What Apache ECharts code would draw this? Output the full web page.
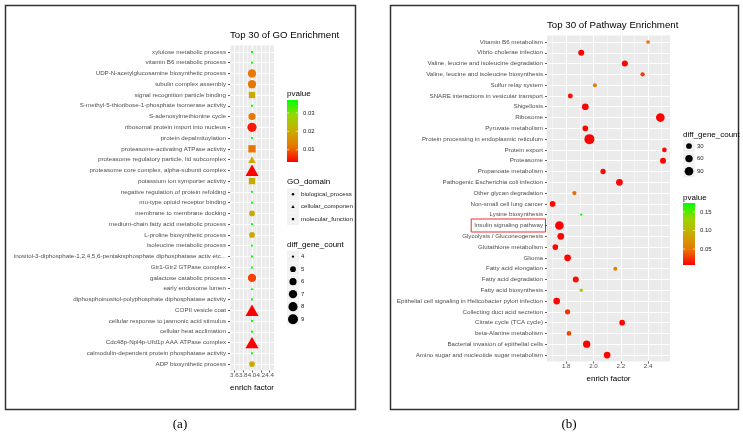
<!DOCTYPE html>
<html><head><meta charset="utf-8">
<script src="https://cdn.jsdelivr.net/npm/echarts@6/dist/echarts.min.js"></script>
<style>html,body{margin:0;padding:0;background:#fff;}#c{width:743px;height:438px;}</style>
</head><body><div id="c"></div><script>
// ---------- Panel (a): GO enrichment ----------
const goTerms = ['xylulose metabolic process','vitamin B6 metabolic process','UDP-N-acetylglucosamine biosynthetic process','tubulin complex assembly','signal recognition particle binding','S-methyl-5-thioribose-1-phosphate isomerase activity','S-adenosylmethionine cycle','ribosomal protein import into nucleus','protein depalmitoylation','proteasome-activating ATPase activity','proteasome regulatory particle, lid subcomplex','proteasome core complex, alpha-subunit complex','potassium ion symporter activity','negative regulation of protein refolding','mu-type opioid receptor binding','membrane to membrane docking','medium-chain fatty acid metabolic process','L-proline biosynthetic process','isoleucine metabolic process','inositol-3-diphosphate-1,2,4,5,6-pentakisphosphate diphosphatase activ etc...','Gtr1-Gtr2 GTPase complex','galactose catabolic process','early endosome lumen','diphosphoinositol-polyphosphate diphosphatase activity','COPII vesicle coat','cellular response to jasmonic acid stimulus','cellular heat acclimation','Cdc48p-Npl4p-Ufd1p AAA ATPase complex','calmodulin-dependent protein phosphatase activity','ADP biosynthetic process'];
const goEnrich = [4.0,4.0,4.0,4.0,4.0,4.0,4.0,4.0,4.0,4.0,4.0,4.0,4.0,4.0,4.0,4.0,4.0,4.0,4.0,4.0,4.0,4.0,4.0,4.0,4.0,4.0,4.0,4.0,4.0,4.0];
const goCount = [4,4,7,7,6,4,6,8,4,7,5,9,6,4,4,5,4,5,4,4,4,7,4,4,9,4,4,9,4,5];
const goPvalue = [0.037,0.037,0.012,0.012,0.02,0.037,0.012,0.005,0.037,0.012,0.02,0.0034,0.02,0.037,0.037,0.02,0.037,0.02,0.037,0.037,0.037,0.008,0.037,0.037,0.0034,0.037,0.037,0.0034,0.037,0.02];
// 0 biological_process, 1 cellular_component, 2 molecular_function
const goDomain = [0,0,0,0,2,2,0,0,0,2,1,1,2,0,2,0,0,0,0,2,1,0,1,2,1,0,0,1,2,0];
const goDomainNames = ['biological_process','cellular_component','molecular_function'];
const goTicks = [3.6,3.8,4.0,4.2,4.4];
const goMinorTicks = [3.5,3.7,3.9,4.1,4.3,4.5];
const goPLegend = [0.01,0.02,0.03];
const goCountLegend = [4,5,6,7,8,9];

// ---------- Panel (b): Pathway enrichment ----------
const kTerms = ['Vitamin B6 metabolism','Vibrio cholerae infection','Valine, leucine and isoleucine degradation','Valine, leucine and isoleucine biosynthesis','Sulfur relay system','SNARE interactions in vesicular transport','Shigellosis','Ribosome','Pyruvate metabolism','Protein processing in endoplasmic reticulum','Protein export','Proteasome','Propanoate metabolism','Pathogenic Escherichia coli infection','Other glycan degradation','Non-small cell lung cancer','Lysine biosynthesis','Insulin signaling pathway','Glycolysis / Gluconeogenesis','Glutathione metabolism','Glioma','Fatty acid elongation','Fatty acid degradation','Fatty acid biosynthesis','Epithelial cell signaling in Helicobacter pylori infection','Collecting duct acid secretion','Citrate cycle (TCA cycle)','beta-Alanine metabolism','Bacterial invasion of epithelial cells','Amino sugar and nucleotide sugar metabolism'];
const kEnrich = [2.40,1.91,2.23,2.36,2.01,1.83,1.94,2.49,1.94,1.97,2.52,2.51,2.07,2.19,1.86,1.70,1.91,1.75,1.76,1.72,1.81,2.16,1.87,1.91,1.73,1.81,2.21,1.82,1.95,2.10];
const kCount = [9,34,34,13,11,20,46,91,29,130,17,34,24,46,13,29,5,91,46,29,46,11,34,7,46,24,29,17,57,46];
const kPvalue = [0.049,0.008,0.008,0.027,0.05,0.012,0.008,0.007,0.009,0.007,0.01,0.008,0.01,0.008,0.045,0.01,0.174,0.007,0.008,0.009,0.008,0.055,0.012,0.124,0.008,0.025,0.01,0.03,0.007,0.009];
const kTicks = [1.8,2.0,2.2,2.4];
const kMinorTicks = [1.7,1.9,2.1,2.3,2.5];
const kPLegend = [0.05,0.10,0.15];
const kCountLegend = [30,60,90];
const highlightTerm = 'Insulin signaling pathway';

// ---------- helpers ----------
const FONT = 'Liberation Sans, Arial, sans-serif';
const ramp = ['#FF0000','#E87600','#C9AB00','#98D700','#00FF00'];
const TXT = '#4D4D4D';
function ext(a){return [Math.min.apply(null,a), Math.max.apply(null,a)];}
function expand(a){const e=ext(a); const r=e[1]-e[0]; if(r===0) return [e[0]-0.5,e[1]+0.5]; return [e[0]-0.05*r,e[1]+0.05*r];}
function sizer(arr){const e=ext(arr); return v=>2.3+7.7*Math.sqrt((v-e[0])/(e[1]-e[0]));}
const goSize = sizer(goCount), kSize = sizer(kCount);
function shapeSize(shape, d){ if(shape===1) return [d*1.3,d*1.15]; if(shape===2) return d*0.88; return d; }
const SHAPES = ['circle','triangle','rect'];
const goP = ext(goPvalue), kP = ext(kPvalue);
const goX = expand(goEnrich), kX = expand(kEnrich);
const idx30 = goTerms.map((t,i)=>i);
const kIdx = kTerms.map((t,i)=>i);

function xAxes(grid, range, major, minor){
  return [{
    gridIndex:grid, type:'value', min:range[0], max:range[1], position:'bottom',
    axisLine:{show:false,onZero:false},
    axisTick:{show:true,length:2,lineStyle:{color:'#333',width:0.8},customValues:major},
    axisLabel:{customValues:major,fontSize:6.2,color:TXT,margin:2,fontFamily:FONT,formatter:v=>v.toFixed(1)},
    splitLine:{show:true,lineStyle:{color:'#fff',width:1}},
    name:'enrich factor', nameLocation:'middle', nameGap:13,
    nameTextStyle:{fontSize:8,color:'#000',fontFamily:FONT}
  },{
    gridIndex:grid, type:'value', min:range[0], max:range[1], position:'top',
    axisLine:{show:false,onZero:false},
    axisTick:{show:false,customValues:minor},
    axisLabel:{show:false,customValues:minor},
    splitLine:{show:true,lineStyle:{color:'#fff',width:0.5}}
  }];
}
function yAxis(grid, terms, idx, fs){
  return {
    gridIndex:grid, type:'value', inverse:true, min:-0.6, max:terms.length-1+0.6,
    axisLine:{show:false,onZero:false},
    axisTick:{show:true,length:2,lineStyle:{color:'#333',width:0.8},customValues:idx},
    axisLabel:{customValues:idx,fontSize:fs,color:TXT,margin:4,fontFamily:FONT,formatter:v=>terms[Math.round(v)]},
    splitLine:{show:true,lineStyle:{color:'#fff',width:1}}
  };
}

const goData = goTerms.map((t,i)=>[goEnrich[i], i, goCount[i], goPvalue[i], goDomain[i]]);
const kData = kTerms.map((t,i)=>[kEnrich[i], i, kCount[i], kPvalue[i], 0]);

// ---------- legends (graphic) ----------
const graphics = [];
function txt(x,y,s,fs,color,extra){graphics.push({type:'text',x:x,y:y,silent:true,style:Object.assign({text:s,fontSize:fs,fill:color||'#000',fontFamily:FONT,textVerticalAlign:'middle',verticalAlign:'middle'},extra||{})});}
function colorbar(x,y,w,h,prange,labels){
  graphics.push({type:'rect',shape:{x:x,y:y,width:w,height:h},silent:true,style:{fill:new echarts.graphic.LinearGradient(0,1,0,0,ramp.map((c,i)=>({offset:i/(ramp.length-1),color:c})))}});
  labels.forEach(p=>{
    const yy = y+h-(p-prange[0])/(prange[1]-prange[0])*h;
    graphics.push({type:'line',shape:{x1:x,y1:yy,x2:x+2.2,y2:yy},silent:true,style:{stroke:'#fff',lineWidth:0.6}});
    graphics.push({type:'line',shape:{x1:x+w-2.2,y1:yy,x2:x+w,y2:yy},silent:true,style:{stroke:'#fff',lineWidth:0.6}});
    txt(x+w+5,yy,p.toFixed(2),6,'#222');
  });
}
function key(cx,cy){graphics.push({type:'rect',shape:{x:cx-6,y:cy-6,width:12,height:12},silent:true,style:{fill:'#F2F2F2'}});}

// frames
graphics.push({type:'rect',shape:{x:5.5,y:5.5,width:350,height:404},silent:true,style:{fill:'#fff',stroke:'#333',lineWidth:1.5},z:-10});
graphics.push({type:'rect',shape:{x:390.5,y:5.5,width:348,height:404},silent:true,style:{fill:'#fff',stroke:'#333',lineWidth:1.5},z:-10});
// captions
graphics.push({type:'text',x:180,y:425,silent:true,style:{text:'(a)',fontSize:13,fill:'#000',fontFamily:'Liberation Serif, Times New Roman, serif',textAlign:'center',textVerticalAlign:'middle',align:'center',verticalAlign:'middle'}});
graphics.push({type:'text',x:569,y:425,silent:true,style:{text:'(b)',fontSize:13,fill:'#000',fontFamily:'Liberation Serif, Times New Roman, serif',textAlign:'center',textVerticalAlign:'middle',align:'center',verticalAlign:'middle'}});

// left legends
txt(287,94,'pvalue',8,'#000');
colorbar(287,100,11,62,goP,goPLegend);
txt(287,182,'GO_domain',8,'#000');
goDomainNames.forEach((n,i)=>{
  const cy = 194.3+i*12.4, cx=293;
  key(cx,cy);
  if(i===0) graphics.push({type:'circle',shape:{cx:cx,cy:cy,r:1.2},silent:true,style:{fill:'#000'}});
  else if(i===1) graphics.push({type:'polygon',shape:{points:[[cx,cy-1.6],[cx-1.6,cy+1.2],[cx+1.6,cy+1.2]]},silent:true,style:{fill:'#000'}});
  else graphics.push({type:'rect',shape:{x:cx-1.1,y:cy-1.1,width:2.2,height:2.2},silent:true,style:{fill:'#000'}});
  txt(301,cy,n,6.2,'#222',{width:53,overflow:'truncate',ellipsis:''});
});
txt(287,245,'diff_gene_count',8,'#000');
goCountLegend.forEach((v,i)=>{
  const cy=256.7+i*12.5, cx=293;
  key(cx,cy);
  graphics.push({type:'circle',shape:{cx:cx,cy:cy,r:goSize(v)/2},silent:true,style:{fill:'#000'}});
  txt(301,cy,String(v),6,'#222');
});

// right legends
txt(683,134.3,'diff_gene_count',8,'#000',{width:58,overflow:'truncate',ellipsis:''});
kCountLegend.forEach((v,i)=>{
  const cy=146+i*12.6, cx=689;
  key(cx,cy);
  graphics.push({type:'circle',shape:{cx:cx,cy:cy,r:kSize(v)/2},silent:true,style:{fill:'#000'}});
  txt(697,cy,String(v),6,'#222');
});
txt(683,197.3,'pvalue',8,'#000');
colorbar(683,203,12,62,kP,kPLegend);

const chart = echarts.init(document.getElementById('c'),null,{renderer:'canvas'});
chart.setOption({
  animation:false,
  backgroundColor:'#fff',
  title:[
    {text:'Top 30 of GO Enrichment',left:230,top:30,padding:0,textStyle:{fontSize:9.7,fontWeight:'normal',color:'#000',fontFamily:FONT}},
    {text:'Top 30 of Pathway Enrichment',left:547,top:20,padding:0,textStyle:{fontSize:9.7,fontWeight:'normal',color:'#000',fontFamily:FONT}}
  ],
  grid:[
    {left:230,top:45.5,width:44,height:325,show:true,backgroundColor:'#EBEBEB',borderWidth:0,containLabel:false},
    {left:547,top:35.5,width:123,height:326,show:true,backgroundColor:'#EBEBEB',borderWidth:0,containLabel:false}
  ],
  xAxis: xAxes(0,goX,goTicks,goMinorTicks).concat(xAxes(1,kX,kTicks,kMinorTicks)),
  yAxis:[yAxis(0,goTerms,idx30,6.2), yAxis(1,kTerms,kIdx,6.2)],
  visualMap:[
    {type:'continuous',show:false,seriesIndex:0,dimension:3,min:goP[0],max:goP[1],inRange:{color:ramp}},
    {type:'continuous',show:false,seriesIndex:1,dimension:3,min:kP[0],max:kP[1],inRange:{color:ramp}}
  ],
  series:[
    {type:'scatter',xAxisIndex:0,yAxisIndex:0,data:goData,silent:true,
     symbol:v=>SHAPES[v[4]],symbolSize:v=>shapeSize(v[4],goSize(v[2])),itemStyle:{opacity:1}},
    {type:'scatter',xAxisIndex:2,yAxisIndex:1,data:kData,silent:true,
     symbol:'circle',symbolSize:v=>kSize(v[2]),itemStyle:{opacity:1}}
  ],
  graphic: graphics
});
// red highlight box around the highlighted pathway label
const hi = kTerms.indexOf(highlightTerm);
const hy = chart.convertToPixel({yAxisIndex:1}, hi);
const tw = echarts.format.getTextRect ? echarts.format.getTextRect(highlightTerm, '6.2px '+FONT).width : 72;
chart.setOption({graphic: graphics.concat([{type:'rect',shape:{x:547-4-tw-3,y:hy-6.5,width:tw+5.5,height:13},silent:true,style:{fill:'none',stroke:'#E8322E',lineWidth:1}}])});
</script></body></html>
